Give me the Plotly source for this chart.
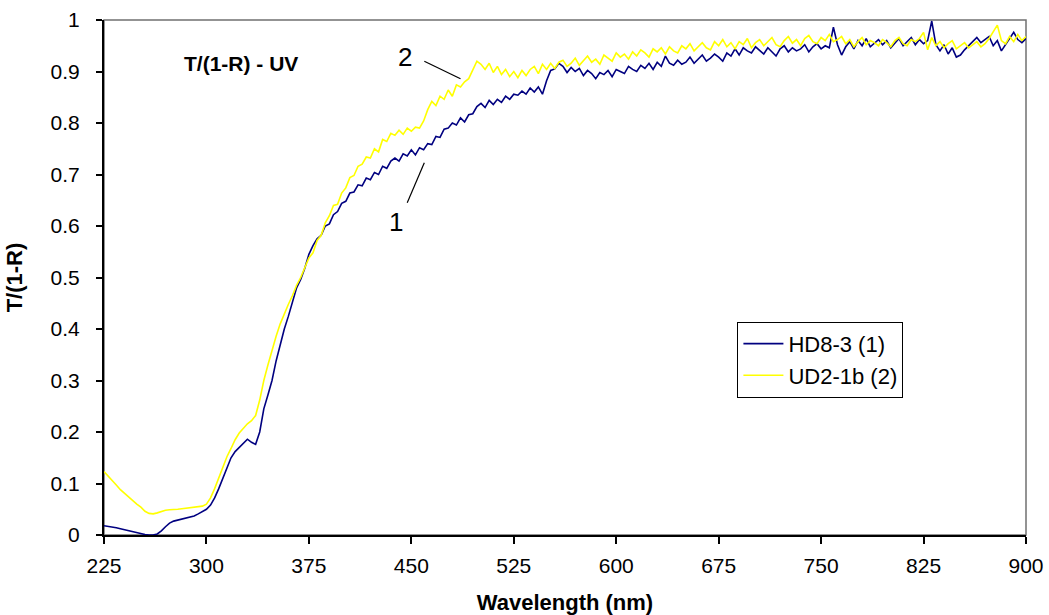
import plotly.graph_objects as go

# Wavelength grid (nm), 3 nm steps
wavelength = list(range(225, 901, 3))

hd8_3 = [
    0.018, 0.017, 0.016, 0.014, 0.012, 0.010, 0.008, 0.006, 0.004, 0.002,
    0.001, 0.000, 0.000, 0.002, 0.008, 0.016, 0.023, 0.027, 0.029, 0.031,
    0.033, 0.035, 0.037, 0.041, 0.045, 0.050, 0.058, 0.072, 0.090, 0.110,
    0.130, 0.150, 0.162, 0.170, 0.178, 0.186, 0.180, 0.176, 0.200, 0.245,
    0.272, 0.300, 0.338, 0.370, 0.400, 0.425, 0.455, 0.480, 0.496, 0.518,
    0.545, 0.562, 0.575, 0.582, 0.600, 0.604, 0.622, 0.628, 0.644, 0.648,
    0.664, 0.666, 0.680, 0.678, 0.693, 0.690, 0.704, 0.700, 0.716, 0.712,
    0.726, 0.732, 0.726, 0.740, 0.736, 0.748, 0.738, 0.752, 0.748, 0.760,
    0.758, 0.774, 0.772, 0.788, 0.790, 0.800, 0.796, 0.810, 0.802, 0.816,
    0.818, 0.832, 0.838, 0.830, 0.844, 0.836, 0.846, 0.840, 0.852, 0.846,
    0.856, 0.854, 0.862, 0.856, 0.868, 0.860, 0.870, 0.856, 0.882, 0.902,
    0.905, 0.916, 0.910, 0.898, 0.908, 0.900, 0.906, 0.892, 0.902, 0.896,
    0.886, 0.898, 0.894, 0.902, 0.890, 0.904, 0.900, 0.896, 0.910, 0.904,
    0.900, 0.912, 0.906, 0.916, 0.904, 0.918, 0.910, 0.930, 0.916, 0.912,
    0.922, 0.914, 0.918, 0.928, 0.916, 0.924, 0.932, 0.920, 0.926, 0.934,
    0.928, 0.920, 0.936, 0.930, 0.944, 0.932, 0.946, 0.940, 0.936, 0.948,
    0.940, 0.934, 0.946, 0.938, 0.930, 0.944, 0.950, 0.938, 0.946, 0.940,
    0.944, 0.952, 0.938, 0.948, 0.954, 0.944, 0.950, 0.946, 0.986, 0.952,
    0.932, 0.948, 0.958, 0.944, 0.960, 0.950, 0.964, 0.948, 0.956, 0.962,
    0.952, 0.960, 0.946, 0.956, 0.964, 0.950, 0.958, 0.966, 0.952, 0.962,
    0.954, 0.960, 0.998, 0.952, 0.940, 0.952, 0.934, 0.946, 0.928, 0.932,
    0.942, 0.950, 0.958, 0.966, 0.956, 0.962, 0.968, 0.950, 0.960, 0.940,
    0.952, 0.966, 0.976, 0.962, 0.956, 0.964,
]

ud2_1b = [
    0.123, 0.115, 0.106, 0.097, 0.088, 0.081, 0.073, 0.066, 0.060, 0.054,
    0.046, 0.042, 0.041, 0.043, 0.046, 0.048, 0.049, 0.049, 0.050, 0.051,
    0.052, 0.052, 0.053, 0.054, 0.056, 0.060, 0.072, 0.090, 0.112, 0.132,
    0.152, 0.168, 0.185, 0.198, 0.208, 0.216, 0.222, 0.232, 0.262, 0.300,
    0.330, 0.360, 0.386, 0.410, 0.430, 0.448, 0.465, 0.485, 0.500, 0.518,
    0.538, 0.548, 0.572, 0.582, 0.606, 0.620, 0.640, 0.642, 0.664, 0.674,
    0.694, 0.698, 0.716, 0.720, 0.734, 0.732, 0.750, 0.744, 0.768, 0.764,
    0.780, 0.776, 0.786, 0.778, 0.790, 0.784, 0.792, 0.790, 0.804, 0.826,
    0.842, 0.834, 0.852, 0.846, 0.864, 0.852, 0.874, 0.870, 0.880, 0.886,
    0.904, 0.920, 0.914, 0.904, 0.916, 0.898, 0.910, 0.894, 0.904, 0.890,
    0.900, 0.888, 0.902, 0.892, 0.904, 0.910, 0.896, 0.914, 0.904, 0.916,
    0.906, 0.918, 0.922, 0.910, 0.916, 0.926, 0.912, 0.920, 0.930, 0.918,
    0.924, 0.914, 0.932, 0.926, 0.920, 0.936, 0.928, 0.934, 0.924, 0.938,
    0.930, 0.942, 0.936, 0.928, 0.944, 0.938, 0.946, 0.934, 0.948, 0.940,
    0.936, 0.950, 0.944, 0.954, 0.940, 0.948, 0.956, 0.946, 0.942, 0.958,
    0.950, 0.962, 0.948, 0.956, 0.944, 0.958, 0.952, 0.964, 0.946, 0.956,
    0.962, 0.950, 0.958, 0.966, 0.952, 0.948, 0.960, 0.968, 0.955, 0.962,
    0.950, 0.964, 0.970, 0.958, 0.954, 0.966, 0.960, 0.972, 0.958, 0.962,
    0.968, 0.954, 0.962, 0.948, 0.958, 0.966, 0.952, 0.960, 0.956, 0.950,
    0.962, 0.956, 0.948, 0.960, 0.966, 0.954, 0.950, 0.962, 0.958, 0.964,
    0.976, 0.942, 0.966, 0.950, 0.958, 0.946, 0.954, 0.960, 0.944, 0.950,
    0.956, 0.946, 0.952, 0.958, 0.948, 0.954, 0.964, 0.978, 0.990, 0.960,
    0.954, 0.968, 0.958, 0.972, 0.960, 0.968,
]

series_names = ["HD8-3 (1)", "UD2-1b (2)"]
x_ticks = [225, 300, 375, 450, 525, 600, 675, 750, 825, 900]
y_ticks = [0, 0.1, 0.2, 0.3, 0.4, 0.5, 0.6, 0.7, 0.8, 0.9, 1]
y_tick_text = ["0", "0.1", "0.2", "0.3", "0.4", "0.5", "0.6", "0.7", "0.8", "0.9", "1"]

FONT = "Arial, Liberation Sans, sans-serif"

fig = go.Figure()
fig.add_trace(go.Scatter(x=wavelength, y=hd8_3, mode="lines", name=series_names[0],
                         line=dict(color="#000080", width=1.6)))
fig.add_trace(go.Scatter(x=wavelength, y=ud2_1b, mode="lines", name=series_names[1],
                         line=dict(color="#FFFF00", width=1.6)))

# Frame (top/right in grey)
fig.add_shape(type="rect", xref="paper", yref="paper", x0=0, x1=1, y0=0, y1=1,
              line=dict(color="#707070", width=1.5), layer="below")

# Label leader lines
fig.add_shape(type="line", xref="x", yref="y", x0=459.5, y0=0.920, x1=486, y1=0.886,
              line=dict(color="black", width=1.2))
fig.add_shape(type="line", xref="x", yref="y", x0=447, y0=0.645, x1=459.5, y1=0.723,
              line=dict(color="black", width=1.2))

fig.add_annotation(x=445.5, y=0.928, xref="x", yref="y", text="2", showarrow=False,
                   font=dict(size=26, color="black", family=FONT))
fig.add_annotation(x=439, y=0.608, xref="x", yref="y", text="1", showarrow=False,
                   font=dict(size=26, color="black", family=FONT))
fig.add_annotation(x=0.149, y=0.915, xref="paper", yref="paper", xanchor="center",
                   yanchor="middle", text="<b>T/(1-R) - UV</b>",
                   showarrow=False, font=dict(size=21, color="black", family=FONT))

fig.update_layout(
    width=1049, height=615,
    margin=dict(l=104, r=23, t=20, b=80),
    paper_bgcolor="white", plot_bgcolor="white",
    font=dict(family=FONT, color="black"),
    showlegend=True,
    legend=dict(x=0.687, y=0.414, xanchor="left", yanchor="top",
                bordercolor="black", borderwidth=1, bgcolor="white",
                font=dict(size=22, family=FONT, color="black"),
                tracegroupgap=0, itemwidth=40),
    xaxis=dict(range=[225, 900], tickvals=x_ticks, ticks="outside", ticklen=7,
               tickwidth=1.5, tickcolor="black", showline=True, linecolor="black",
               linewidth=2, showgrid=False, zeroline=False, automargin=False,
               tickfont=dict(size=21, family=FONT, color="black"),
               ticklabelstandoff=4,
               title=dict(text="<b>Wavelength (nm)</b>", standoff=20,
                          font=dict(size=22, family=FONT, color="black"))),
    yaxis=dict(range=[0, 1], tickvals=y_ticks, ticktext=y_tick_text, ticks="outside",
               ticklen=6, tickwidth=1.5, tickcolor="black", showline=True,
               linecolor="black", linewidth=2, showgrid=False, zeroline=False,
               automargin=False,
               tickfont=dict(size=21, family=FONT, color="black"),
               ticklabelstandoff=12,
               title=dict(text="<b>T/(1-R)</b>", standoff=22,
                          font=dict(size=22, family=FONT, color="black"))),
)

fig.write_html("out.html")
